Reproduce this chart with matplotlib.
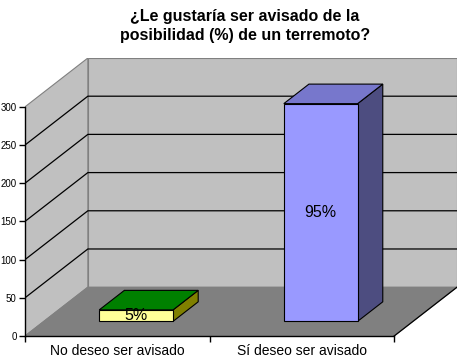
import matplotlib
matplotlib.use('Agg')
from matplotlib import pyplot as plt
from matplotlib.patches import Polygon

plt.rcParams['font.family'] = ['Liberation Sans', 'DejaVu Sans']

# data
categories = ['No deseo ser avisado', 'Sí deseo ser avisado']
values = [15, 285]
labels = ['5%', '95%']
yticks = [0, 50, 100, 150, 200, 250, 300]
title = '¿Le gustaría ser avisado de la\nposibilidad (%) de un terremoto?'

front_colors = ['#ffff99', '#9999ff']
top_colors = ['#008000', '#7777cc']
side_colors = ['#808000', '#4d4d80']

ymax = 300
ncat = len(categories)
# oblique depth offset (category units, value units)
DX = 63 / 185
DY = 49 / 230 * ymax

def proj(x, y, d):
    return (x + d * DX, y + d * DY)

W, H = 462, 361
fig = plt.figure(figsize=(W / 100, H / 100), dpi=100)
ax = fig.add_axes([25 / W, (H - 336) / H, (457 - 25) / W, (336 - 58) / H])
ax.set_xlim(0, ncat + DX)
ax.set_ylim(0, ymax + DY)
for s in ax.spines.values():
    s.set_visible(False)

def face(pts, fc, ec='black', lw=0.8, z=1):
    ax.add_patch(Polygon(pts, closed=True, facecolor=fc, edgecolor=ec, lw=lw, zorder=z))

# walls and floor
face([proj(0, 0, 0), proj(0, 0, 1), proj(0, ymax, 1), proj(0, ymax, 0)], '#c0c0c0', '#808080')
face([proj(0, 0, 1), proj(ncat, 0, 1), proj(ncat, ymax, 1), proj(0, ymax, 1)], '#c0c0c0', '#808080')
face([proj(0, 0, 0), proj(ncat, 0, 0), proj(ncat, 0, 1), proj(0, 0, 1)], '#808080', '#808080')
a, b = proj(ncat, 0, 0), proj(ncat, 0, 1)
ax.plot([a[0], b[0]], [a[1], b[1]], color='black', lw=0.9, zorder=2)

# gridlines
for v in yticks[1:-1]:
    a, b, c = proj(0, v, 0), proj(0, v, 1), proj(ncat, v, 1)
    ax.plot([a[0], b[0], c[0]], [a[1], b[1], c[1]], color='black', lw=0.9, zorder=2)

# bars
d0, d1 = 0.3, 0.7
for i, v in enumerate(values):
    x0, x1 = i + 0.3, i + 0.7
    face([proj(x1, 0, d0), proj(x1, 0, d1), proj(x1, v, d1), proj(x1, v, d0)], side_colors[i], z=3)
    face([proj(x0, v, d0), proj(x1, v, d0), proj(x1, v, d1), proj(x0, v, d1)], top_colors[i], z=3)
    face([proj(x0, 0, d0), proj(x1, 0, d0), proj(x1, v, d0), proj(x0, v, d0)], front_colors[i], z=4)
    cx, cy = proj((x0 + x1) / 2, v / 2, d0)
    ax.text(cx, cy, labels[i], ha='center', va='center', fontsize=11.5, zorder=5)

# axes lines
ax.plot([0, 0], [0, ymax], color='black', lw=1, zorder=6, clip_on=False)
ax.plot([0, ncat], [0, 0], color='black', lw=1, zorder=6, clip_on=False)
ax.set_yticks(yticks)
ax.set_yticklabels([str(t) for t in yticks], fontsize=7)
ax.set_xticks(range(ncat + 1))
ax.set_xticklabels([])
ax.set_xticks([i + 0.5 for i in range(ncat)], categories, minor=True, fontsize=10)
ax.tick_params(axis='x', which='major', length=4, width=1, direction='out')
ax.tick_params(axis='x', which='minor', length=0, pad=6)
ax.tick_params(axis='y', length=4, width=1, pad=2)

fig.text(245 / W, 1 - 26 / H, title, ha='center', va='center', fontsize=11.5,
         fontweight='bold', linespacing=1.3)

fig.savefig('out.png', dpi=100)
